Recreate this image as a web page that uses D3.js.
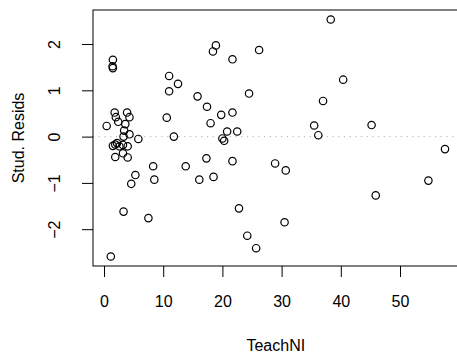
<!DOCTYPE html>
<html>
<head>
<meta charset="utf-8">
<script src="https://cdn.jsdelivr.net/npm/d3@7"></script>
<style>
  body { margin: 0; background: #fff; }
  svg { display: block; font-family: "Liberation Sans", Arial, Helvetica, sans-serif; }
</style>
</head>
<body>
<svg id="chart" width="457" height="360"></svg>
<script>
// Studentized residuals against TeachNI
const teachNI = [
  0.45, 1.15, 1.5, 1.45, 1.5, 1.8, 2.0, 2.4, 3.9, 4.3,
  3.6, 3.4, 3.3, 4.3, 5.8, 1.5, 1.9, 2.2, 2.6, 3.2,
  4.0, 1.9, 3.2, 4.0, 5.3, 4.6, 3.3, 7.5, 8.3, 8.5,
  10.6, 11.0, 12.5, 11.0, 11.8, 13.8, 15.8, 17.4, 18.0, 18.4,
  18.9, 17.3, 16.1, 18.5, 19.8, 21.7, 20.8, 22.5, 20.0, 20.3,
  21.7, 26.2, 24.5, 21.7, 22.8, 24.2, 25.7, 28.9, 30.7, 30.5,
  35.5, 36.2, 37.0, 38.3, 40.4, 45.2, 45.9, 54.8, 57.6
];
const studResid = [
  0.23, -2.59, 1.66, 1.52, 1.48, 0.52, 0.42, 0.32, 0.52, 0.42,
  0.27, 0.13, 0.0, 0.05, -0.05, -0.2, -0.17, -0.14, -0.21, -0.18,
  -0.21, -0.44, -0.36, -0.45, -0.83, -1.02, -1.62, -1.76, -0.64, -0.93,
  0.41, 1.31, 1.14, 0.98, 0.0, -0.64, 0.87, 0.645, 0.29, 1.84,
  1.97, -0.47, -0.93, -0.87, 0.47, 0.52, 0.11, 0.11, -0.04, -0.09,
  1.67, 1.87, 0.93, -0.53, -1.55, -2.14, -2.41, -0.58, -0.73, -1.85,
  0.24, 0.03, 0.77, 2.53, 1.23, 0.25, -1.27, -0.95, -0.27
];
const xTicks = [0, 10, 20, 30, 40, 50];
const yTicks = [-2, -1, 0, 1, 2];
const xLabel = "TeachNI";
const yLabel = "Stud. Resids";

const svg = d3.select("#chart");
const fontSize = 16;

// plot region (right side runs off the canvas edge)
const plotLeft = 93, plotRight = 458.6, plotTop = 10, plotBottom = 266;

const x = d3.scaleLinear().domain([-1.86, 59.9]).range([plotLeft, plotRight]);
const y = d3.scaleLinear().domain([-2.795, 2.735]).range([plotBottom, plotTop]);

const fmt = d => (d < 0 ? "\u2212" + Math.abs(d) : String(d));

// reference line at zero
svg.append("line")
  .attr("x1", plotLeft).attr("x2", plotRight)
  .attr("y1", y(0)).attr("y2", y(0))
  .attr("stroke", "#b3b3b3")
  .attr("stroke-width", 1)
  .attr("stroke-dasharray", "1.2,4.5");

// x axis
const xAxis = svg.append("g")
  .attr("transform", `translate(0,${plotBottom})`)
  .call(d3.axisBottom(x).tickValues(xTicks).tickSize(11).tickSizeOuter(0).tickFormat(fmt));
xAxis.select(".domain").remove();
xAxis.selectAll(".tick line").attr("stroke", "#000").attr("stroke-width", 1);
xAxis.selectAll(".tick text")
  .attr("y", 41).attr("dy", null)
  .attr("fill", "#000")
  .style("font-size", fontSize + "px")
  .style("font-family", "'Liberation Sans', Arial, sans-serif");

// y axis with labels parallel to the axis
const yAxis = svg.append("g")
  .attr("transform", `translate(${plotLeft},0)`)
  .call(d3.axisLeft(y).tickValues(yTicks).tickSize(11).tickSizeOuter(0).tickFormat(fmt));
yAxis.select(".domain").remove();
yAxis.selectAll(".tick line").attr("stroke", "#000").attr("stroke-width", 1);
yAxis.selectAll(".tick text")
  .attr("x", null).attr("dy", null)
  .attr("text-anchor", "middle")
  .attr("transform", "translate(-33,0) rotate(-90)")
  .attr("fill", "#000")
  .style("font-size", fontSize + "px")
  .style("font-family", "'Liberation Sans', Arial, sans-serif");

// plot box
svg.append("rect")
  .attr("x", plotLeft).attr("y", plotTop)
  .attr("width", plotRight - plotLeft).attr("height", plotBottom - plotTop)
  .attr("fill", "none").attr("stroke", "#000").attr("stroke-width", 1);

// points
svg.append("g")
  .selectAll("circle")
  .data(teachNI.map((v, i) => [v, studResid[i]]))
  .join("circle")
  .attr("cx", d => x(d[0]))
  .attr("cy", d => y(d[1]))
  .attr("r", 3.7)
  .attr("fill", "none")
  .attr("stroke", "#000")
  .attr("stroke-width", 1.2);

// axis titles
svg.append("text")
  .attr("x", (plotLeft + plotRight) / 2).attr("y", 351)
  .attr("text-anchor", "middle")
  .style("font-size", fontSize + "px")
  .text(xLabel);

svg.append("text")
  .attr("transform", `translate(24,${(plotTop + plotBottom) / 2}) rotate(-90)`)
  .attr("text-anchor", "middle")
  .style("font-size", fontSize + "px")
  .text(yLabel);
</script>
</body>
</html>
